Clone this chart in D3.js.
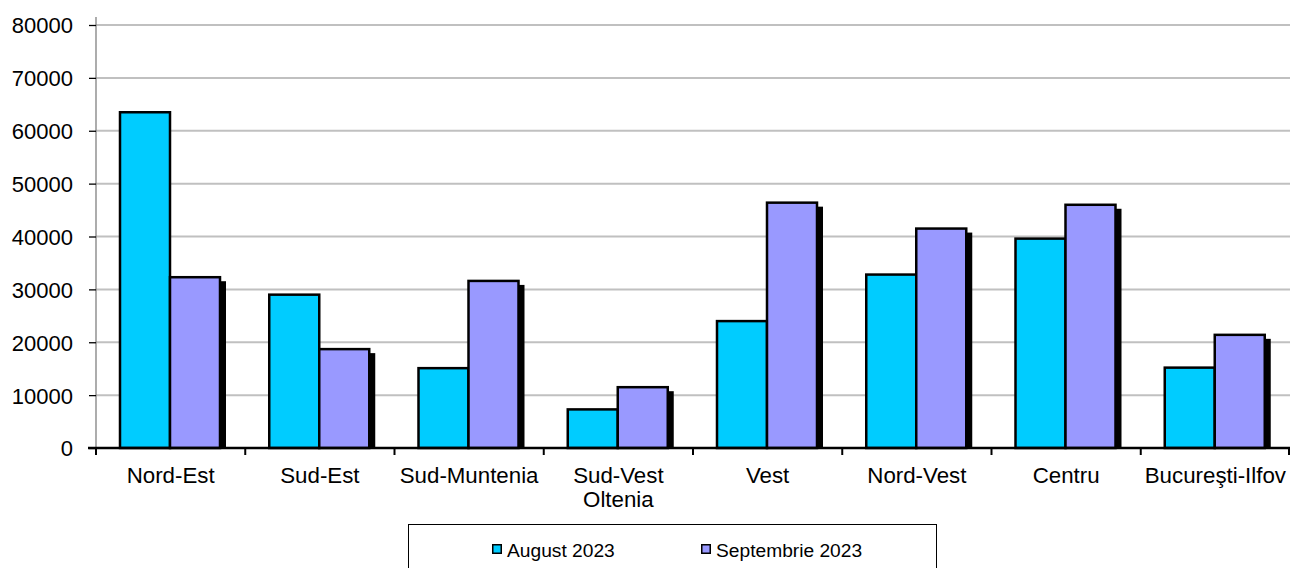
<!DOCTYPE html>
<html><head><meta charset="utf-8">
<script src="https://cdn.jsdelivr.net/npm/d3@7"></script>
<style>body{margin:0;background:#fff}svg{display:block}text{font-family:"Liberation Sans",Arial,sans-serif}</style>
</head><body><svg id="c" width="1290" height="568"></svg>
<script>
const categories = ["Nord-Est","Sud-Est","Sud-Muntenia","Sud-Vest\nOltenia","Vest","Nord-Vest","Centru","Bucureşti-Ilfov"];
const seriesNames = ["August 2023","Septembrie 2023"];
const august = [63500,29000,15100,7300,24000,32800,39600,15200];
const septembrie = [32300,18700,31600,11500,46400,41500,46000,21400];
const yTicks = [0,10000,20000,30000,40000,50000,60000,70000,80000];
const colors = ["#00ccff","#9999ff"];

const svg = d3.select("#c");
const x0 = 96, x1 = 1290, yTop = 25, yBot = 448;
const x = d3.scaleBand().domain(categories).range([x0,x1]).paddingInner(0).paddingOuter(0);
const y = d3.scaleLinear().domain([0,80000]).range([yBot,yTop]);
const inner = d3.scaleBand().domain([0,1]).range([24, 124]);

// gridlines
svg.append("g").selectAll("line").data(yTicks.filter(d=>d>0)).join("line")
  .attr("x1",x0).attr("x2",x1).attr("y1",d=>y(d)).attr("y2",d=>y(d))
  .attr("stroke","#c0c0c0").attr("stroke-width",2);

// y axis
const ya = d3.axisLeft(y).tickValues(yTicks).tickSize(7).tickPadding(16).tickFormat(d3.format("d"));
const gy = svg.append("g").attr("transform",`translate(${x0},0)`).call(ya);
gy.select(".domain").attr("stroke","#808080").attr("stroke-width",1.3).attr("d",`M0,${yTop-8}V${yBot}`);
gy.selectAll(".tick line").attr("stroke","#000").attr("stroke-width",1.3);
gy.selectAll(".tick text").attr("font-size",22).attr("fill","#000").attr("dy","0.36em");

// bars
const data = categories.map((c,i)=>({c, vals:[august[i],septembrie[i]]}));
const groups = svg.append("g").selectAll("g").data(data).join("g")
  .attr("transform",d=>`translate(${x(d.c)},0)`);
// shadow for septembrie
groups.append("rect")
  .attr("x",d=>inner(1)+inner.bandwidth()-1).attr("y",d=>y(d.vals[1])+4)
  .attr("width",7).attr("height",d=>yBot-y(d.vals[1])-4).attr("fill","#000");
groups.selectAll("rect.bar").data(d=>d.vals.map((v,k)=>({v,k}))).join("rect")
  .attr("class","bar")
  .attr("x",d=>inner(d.k)).attr("y",d=>y(d.v))
  .attr("width",inner.bandwidth()).attr("height",d=>yBot-y(d.v))
  .attr("fill",d=>colors[d.k]).attr("stroke","#000").attr("stroke-width",2.5);

// x axis
const xa = d3.axisBottom(x).tickSize(0).tickFormat("");
const gx = svg.append("g").attr("transform",`translate(0,${yBot})`).call(xa);
gx.select(".domain").attr("stroke","#000").attr("stroke-width",2.5).attr("d",`M${x0-8},0H${x1}`);
svg.append("g").selectAll("line").data(categories).join("line")
  .attr("x1",d=>x(d)).attr("x2",d=>x(d)).attr("y1",yBot).attr("y2",yBot+7)
  .attr("stroke","#000").attr("stroke-width",2);
svg.append("line").attr("x1",x1-1).attr("x2",x1-1).attr("y1",yBot).attr("y2",yBot+7).attr("stroke","#000").attr("stroke-width",2);
const lbl = svg.append("g").selectAll("text").data(categories).join("text")
  .attr("x",d=>x(d)+x.bandwidth()/2).attr("y",483).attr("text-anchor","middle")
  .attr("font-size",22.3).attr("fill","#000");
lbl.each(function(d){
  const t = d3.select(this);
  d.split("\n").forEach((s,i)=>t.append("tspan").attr("x",x(d)+x.bandwidth()/2).attr("dy",i?24:0).text(s));
});

// legend
svg.append("rect").attr("x",408.5).attr("y",524.5).attr("width",528).attr("height",60)
  .attr("fill","#fff").attr("stroke","#000").attr("stroke-width",1);
const legX = [492, 701];
const lg = svg.append("g").selectAll("g").data(seriesNames).join("g")
  .attr("transform",(d,i)=>`translate(${legX[i]},544)`);
lg.append("rect").attr("x",0.75).attr("y",0.75).attr("width",8.5).attr("height",8.5)
  .attr("fill",(d,i)=>colors[i]).attr("stroke","#000").attr("stroke-width",1.5);
lg.append("text").attr("x",15).attr("y",13).attr("font-size",19.2).attr("fill","#000").text(d=>d);
</script></body></html>
